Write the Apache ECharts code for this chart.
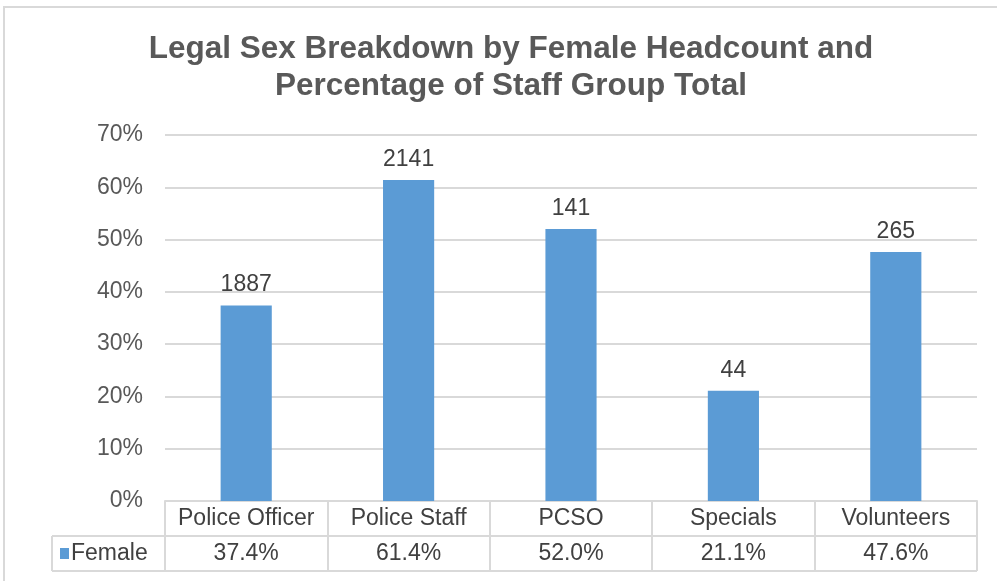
<!DOCTYPE html>
<html>
<head>
<meta charset="utf-8">
<script src="https://cdn.jsdelivr.net/npm/echarts@6/dist/echarts.min.js"></script>
<style>
  html, body { margin: 0; padding: 0; background: #fff; }
  #chart { width: 997px; height: 581px; }
</style>
</head>
<body>
<div id="chart"></div>
<script>
// data
const categories = ['Police Officer', 'Police Staff', 'PCSO', 'Specials', 'Volunteers'];
const femalePct = [37.4, 61.4, 52.0, 21.1, 47.6];
const headcount = [1887, 2141, 141, 44, 265];
const seriesName = 'Female';

const textColor = '#404040';
const gridColor = '#d9d9d9';
const barColor = '#5b9bd5';
const fontSize = 23;

const chart = echarts.init(document.getElementById('chart'));

const option = {
  backgroundColor: '#fff',
  animation: false,
  title: {
    text: 'Legal Sex Breakdown by Female Headcount and\nPercentage of Staff Group Total',
    left: 506,
    top: 26,
    textAlign: 'center',
    textStyle: {
      fontFamily: 'Liberation Sans',
      fontSize: 31.5,
      fontWeight: 'bold',
      color: '#595959',
      lineHeight: 37
    }
  },
  grid: { left: 165, right: 20, top: 135, bottom: 80 },
  xAxis: [
    {
      type: 'category',
      data: categories,
      axisLine: { lineStyle: { color: gridColor, width: 2 } },
      axisTick: { show: true, length: 70, lineStyle: { color: gridColor, width: 2 } },
      axisLabel: {
        margin: 6,
        fontFamily: 'Liberation Sans',
        fontSize: fontSize,
        color: textColor,
        interval: 0
      }
    },
    {
      type: 'category',
      position: 'bottom',
      offset: 35,
      data: femalePct.map(v => v.toFixed(1) + '%'),
      axisLine: { show: false },
      axisTick: { show: false },
      axisLabel: {
        margin: 6,
        fontFamily: 'Liberation Sans',
        fontSize: fontSize,
        color: textColor,
        interval: 0
      }
    }
  ],
  yAxis: {
    type: 'value',
    min: 0,
    max: 70,
    interval: 10,
    axisLine: { show: false },
    axisTick: { show: false },
    axisLabel: {
      formatter: '{value}%',
      margin: 22,
      fontFamily: 'Liberation Sans',
      fontSize: fontSize,
      color: '#595959'
    },
    splitLine: { lineStyle: { color: gridColor, width: 2 } }
  },
  series: [
    {
      name: seriesName,
      type: 'bar',
      data: femalePct,
      barWidth: '31.5%',
      itemStyle: { color: barColor },
      label: {
        show: true,
        position: 'top',
        distance: 9,
        formatter: p => String(headcount[p.dataIndex]),
        fontFamily: 'Liberation Sans',
        fontSize: fontSize,
        color: textColor
      }
    }
  ],
  graphic: [
    // outer chart border
    { type: 'line', shape: { x1: 3, y1: 7, x2: 997, y2: 7 }, style: { stroke: '#d9d9d9', lineWidth: 2 }, silent: true },
    { type: 'line', shape: { x1: 4, y1: 7, x2: 4, y2: 581 }, style: { stroke: '#d9d9d9', lineWidth: 2 }, silent: true },
    // data table rows
    { type: 'line', shape: { x1: 52, y1: 536, x2: 977, y2: 536 }, style: { stroke: gridColor, lineWidth: 2 }, silent: true },
    { type: 'line', shape: { x1: 52, y1: 571, x2: 977, y2: 571 }, style: { stroke: gridColor, lineWidth: 2 }, silent: true },
    { type: 'line', shape: { x1: 52, y1: 536, x2: 52, y2: 571 }, style: { stroke: gridColor, lineWidth: 2 }, silent: true },
    // legend key inside the table
    { type: 'rect', shape: { x: 60, y: 548, width: 9, height: 11 }, style: { fill: barColor }, silent: true },
    {
      type: 'text', left: 71, top: 542,
      style: { text: seriesName, fontFamily: 'Liberation Sans', fontSize: fontSize, fill: textColor },
      silent: true
    }
  ]
};

chart.setOption(option);
</script>
</body>
</html>
